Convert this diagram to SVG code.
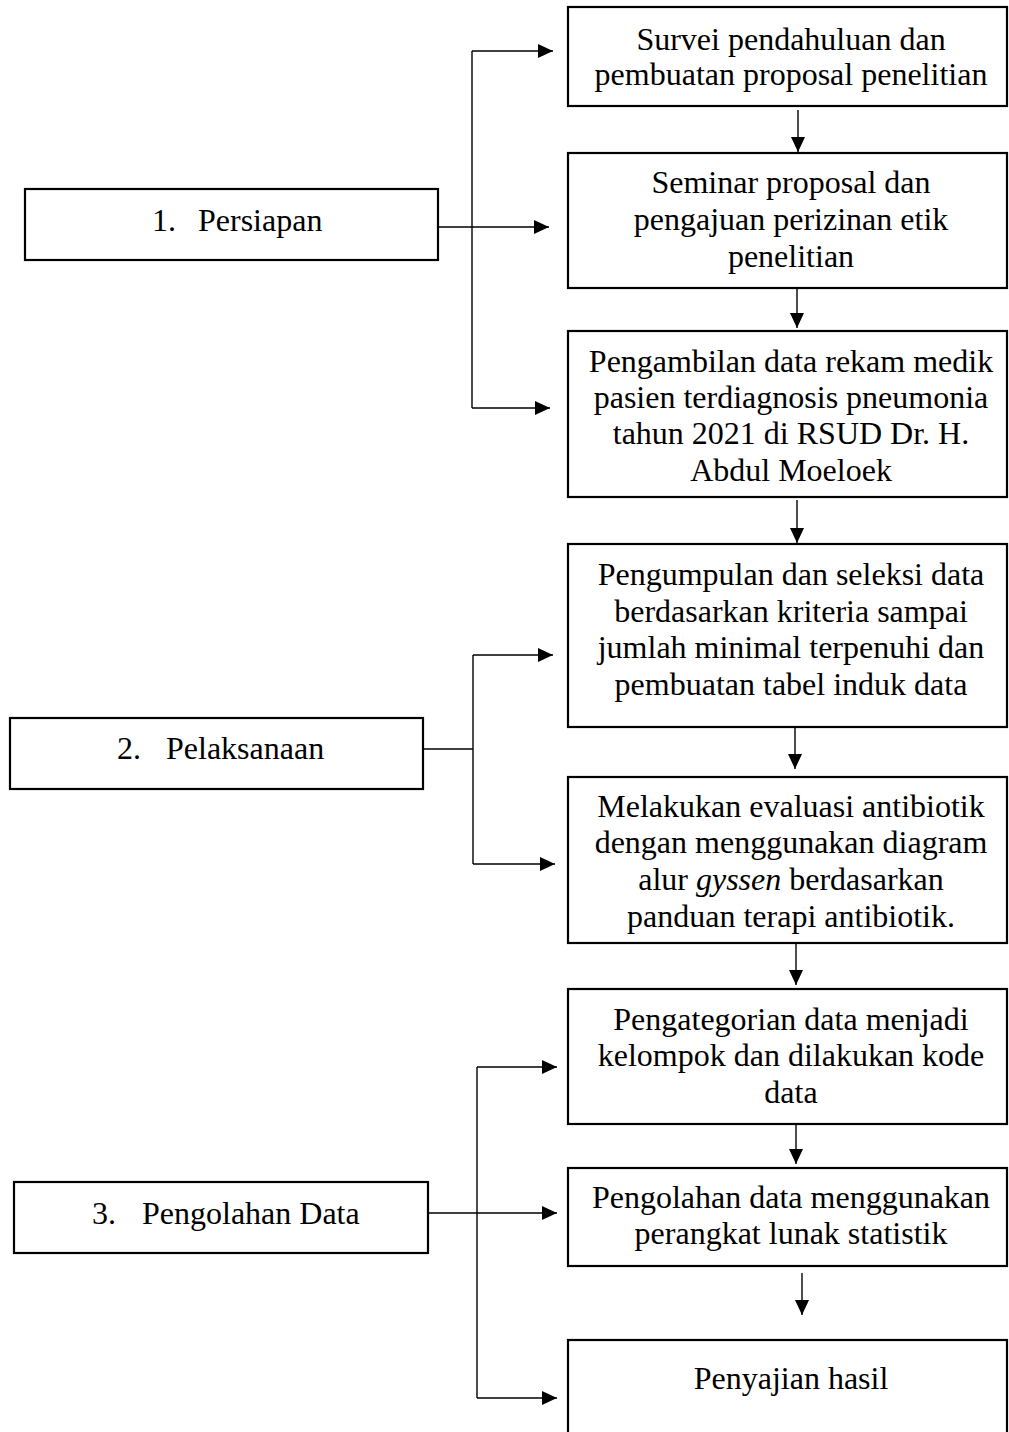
<svg xmlns="http://www.w3.org/2000/svg" width="1009" height="1432" viewBox="0 0 1009 1432">
<style>
.box{fill:#fff;stroke:#000;stroke-width:2.2}
.t{font-family:"Liberation Serif","Times New Roman",serif;font-size:32px;fill:#000}
.c{text-anchor:middle}
.ln{fill:none;stroke:#000;stroke-width:1.4}
</style>
<defs>
<marker id="ah" markerUnits="userSpaceOnUse" markerWidth="15" markerHeight="14" refX="15" refY="7" orient="auto">
<path d="M0,0 L15,7 L0,14 z" fill="#000"/>
</marker>
</defs>
<rect width="1009" height="1432" fill="#fff"/>
<g id="connectors">
<path class="ln" d="M472,51 V408"/>
<path class="ln" d="M472,51 H553" marker-end="url(#ah)"/>
<path class="ln" d="M438,227 H549" marker-end="url(#ah)"/>
<path class="ln" d="M472,408 H550" marker-end="url(#ah)"/>
<path class="ln" d="M423,749 H473"/>
<path class="ln" d="M473,655 V864"/>
<path class="ln" d="M473,655 H553" marker-end="url(#ah)"/>
<path class="ln" d="M473,864 H555" marker-end="url(#ah)"/>
<path class="ln" d="M477,1067 V1398"/>
<path class="ln" d="M477,1067 H557" marker-end="url(#ah)"/>
<path class="ln" d="M428,1213 H557" marker-end="url(#ah)"/>
<path class="ln" d="M477,1398 H557" marker-end="url(#ah)"/>
<path class="ln" d="M798,110 V152" marker-end="url(#ah)"/>
<path class="ln" d="M797,286 V328" marker-end="url(#ah)"/>
<path class="ln" d="M797,500 V543" marker-end="url(#ah)"/>
<path class="ln" d="M795,728 V769" marker-end="url(#ah)"/>
<path class="ln" d="M796,944 V985" marker-end="url(#ah)"/>
<path class="ln" d="M796,1122 V1164" marker-end="url(#ah)"/>
<path class="ln" d="M802,1273 V1315" marker-end="url(#ah)"/>
</g>
<g id="n1">
<rect class="box" x="25" y="189" width="413" height="71"/>
<text class="t" x="152" y="231">1.</text>
<text class="t" x="198" y="231">Persiapan</text>
</g>
<g id="n2">
<rect class="box" x="10" y="718" width="413" height="71"/>
<text class="t" x="117" y="759">2.</text>
<text class="t" x="166" y="759">Pelaksanaan</text>
</g>
<g id="n3">
<rect class="box" x="14" y="1182" width="414" height="71"/>
<text class="t" x="92" y="1224">3.</text>
<text class="t" x="142" y="1224">Pengolahan Data</text>
</g>
<g id="a">
<rect class="box" x="568" y="7" width="439" height="99"/>
<text class="t c" x="791" y="50">Survei pendahuluan dan</text>
<text class="t c" x="791" y="85">pembuatan proposal penelitian</text>
</g>
<g id="b">
<rect class="box" x="568" y="153" width="439" height="135"/>
<text class="t c" x="791" y="193">Seminar proposal dan</text>
<text class="t c" x="791" y="230">pengajuan perizinan etik</text>
<text class="t c" x="791" y="267">penelitian</text>
</g>
<g id="c">
<rect class="box" x="568" y="331" width="439" height="166"/>
<text class="t c" x="791" y="372">Pengambilan data rekam medik</text>
<text class="t c" x="791" y="408">pasien terdiagnosis pneumonia</text>
<text class="t c" x="791" y="444">tahun 2021 di RSUD Dr. H.</text>
<text class="t c" x="791" y="481">Abdul Moeloek</text>
</g>
<g id="d">
<rect class="box" x="568" y="544" width="439" height="183"/>
<text class="t c" x="791" y="585">Pengumpulan dan seleksi data</text>
<text class="t c" x="791" y="622">berdasarkan kriteria sampai</text>
<text class="t c" x="791" y="658">jumlah minimal terpenuhi dan</text>
<text class="t c" x="791" y="695">pembuatan tabel induk data</text>
</g>
<g id="e">
<rect class="box" x="568" y="777" width="439" height="166"/>
<text class="t c" x="791" y="817">Melakukan evaluasi antibiotik</text>
<text class="t c" x="791" y="853">dengan menggunakan diagram</text>
<text class="t c" x="791" y="890">alur <tspan font-style="italic">gyssen</tspan> berdasarkan</text>
<text class="t c" x="791" y="927">panduan terapi antibiotik.</text>
</g>
<g id="f">
<rect class="box" x="568" y="989" width="439" height="135"/>
<text class="t c" x="791" y="1030">Pengategorian data menjadi</text>
<text class="t c" x="791" y="1066">kelompok dan dilakukan kode</text>
<text class="t c" x="791" y="1103">data</text>
</g>
<g id="g">
<rect class="box" x="568" y="1168" width="439" height="98"/>
<text class="t c" x="791" y="1208">Pengolahan data menggunakan</text>
<text class="t c" x="791" y="1244">perangkat lunak statistik</text>
</g>
<g id="h">
<rect class="box" x="568" y="1340" width="439" height="120"/>
<text class="t c" x="791" y="1389">Penyajian hasil</text>
</g>
</svg>
